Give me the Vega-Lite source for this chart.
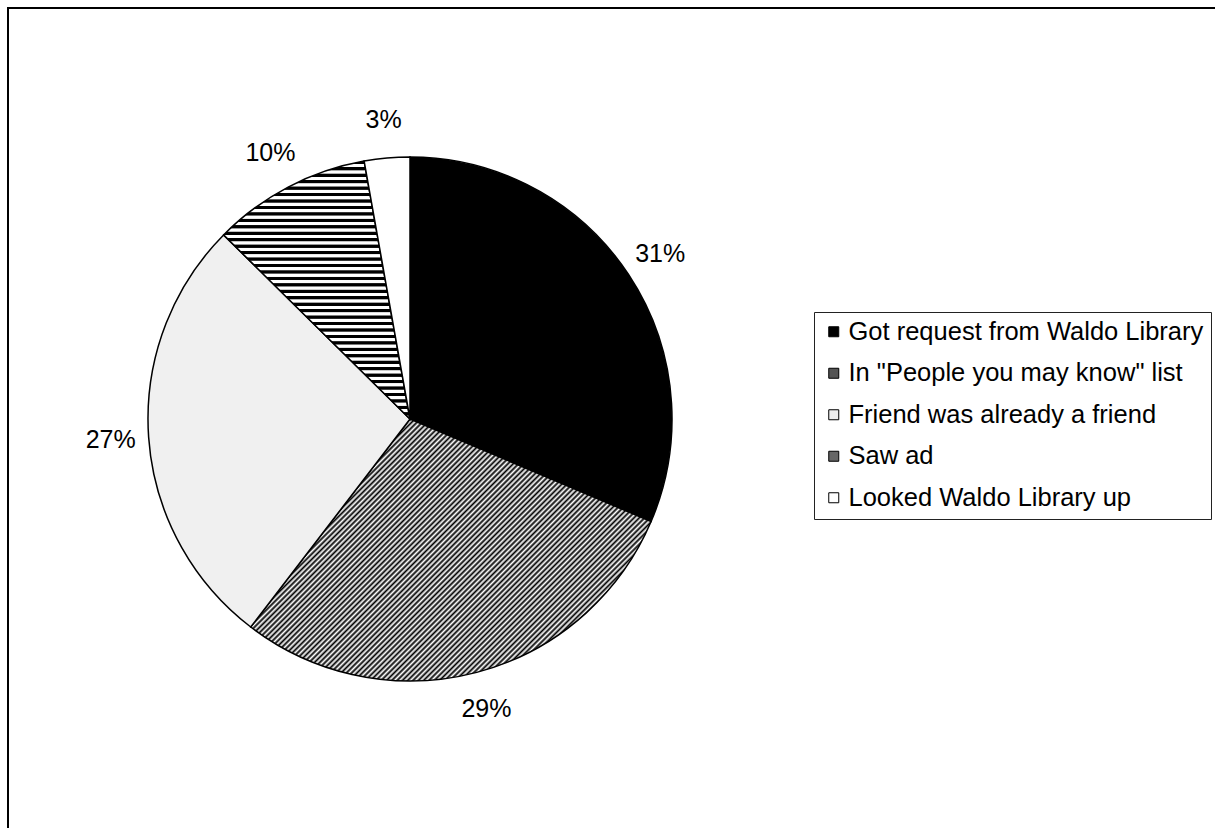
{
  "$schema": "https://vega.github.io/schema/vega-lite/v6.json",
  "padding": {"left": 6, "top": 6, "right": 0, "bottom": 0},
  "background": "white",
  "bounds": "flush",
  "spacing": 0,
  "data": {"values": [
    {"category": "Got request from Waldo Library", "share": 0.314},
    {"category": "In \"People you may know\" list", "share": 0.29},
    {"category": "Friend was already a friend", "share": 0.27},
    {"category": "Saw ad", "share": 0.098},
    {"category": "Looked Waldo Library up", "share": 0.028}
  ]},
  "resolve": {"scale": {"fill": "independent"}, "legend": {"fill": "independent"}},
  "hconcat": [
    {
      "width": 804,
      "height": 822,
      "view": {"stroke": "black", "strokeWidth": 2, "strokeCap": "square", "strokeDash": [804, 1626, 822, 1]},
      "layer": [
        {
          "mark": {"type": "arc", "radius": 262, "stroke": "black", "strokeWidth": 1.5},
          "encoding": {
            "theta": {"field": "share", "type": "quantitative", "stack": true},
            "order": {"field": "share", "type": "quantitative", "sort": "descending"},
            "detail": {"field": "category", "type": "nominal"},
            "fill": {
              "condition": [
                {"test": "datum.category === 'Got request from Waldo Library'", "value": "#000000"},
                {"test": "datum.category === 'In \"People you may know\" list'", "value": {"gradient": "linear", "x1": 0, "y1": 0, "x2": 1.158, "y2": 0.758, "stops": [
{"offset":0,"color":"#000"},{"offset":0.004,"color":"#fff"},{"offset":0.008,"color":"#000"},{"offset":0.012,"color":"#fff"},{"offset":0.016,"color":"#000"},{"offset":0.02,"color":"#fff"},{"offset":0.024,"color":"#000"},{"offset":0.028,"color":"#fff"},{"offset":0.032,"color":"#000"},{"offset":0.036,"color":"#fff"},
{"offset":0.04,"color":"#000"},{"offset":0.044,"color":"#fff"},{"offset":0.048,"color":"#000"},{"offset":0.052,"color":"#fff"},{"offset":0.056,"color":"#000"},{"offset":0.06,"color":"#fff"},{"offset":0.064,"color":"#000"},{"offset":0.068,"color":"#fff"},{"offset":0.072,"color":"#000"},{"offset":0.076,"color":"#fff"},
{"offset":0.08,"color":"#000"},{"offset":0.084,"color":"#fff"},{"offset":0.088,"color":"#000"},{"offset":0.092,"color":"#fff"},{"offset":0.096,"color":"#000"},{"offset":0.1,"color":"#fff"},{"offset":0.104,"color":"#000"},{"offset":0.108,"color":"#fff"},{"offset":0.112,"color":"#000"},{"offset":0.116,"color":"#fff"},
{"offset":0.12,"color":"#000"},{"offset":0.124,"color":"#fff"},{"offset":0.128,"color":"#000"},{"offset":0.132,"color":"#fff"},{"offset":0.136,"color":"#000"},{"offset":0.14,"color":"#fff"},{"offset":0.144,"color":"#000"},{"offset":0.148,"color":"#fff"},{"offset":0.152,"color":"#000"},{"offset":0.156,"color":"#fff"},
{"offset":0.16,"color":"#000"},{"offset":0.164,"color":"#fff"},{"offset":0.168,"color":"#000"},{"offset":0.172,"color":"#fff"},{"offset":0.176,"color":"#000"},{"offset":0.18,"color":"#fff"},{"offset":0.184,"color":"#000"},{"offset":0.188,"color":"#fff"},{"offset":0.192,"color":"#000"},{"offset":0.196,"color":"#fff"},
{"offset":0.2,"color":"#000"},{"offset":0.204,"color":"#fff"},{"offset":0.208,"color":"#000"},{"offset":0.212,"color":"#fff"},{"offset":0.216,"color":"#000"},{"offset":0.22,"color":"#fff"},{"offset":0.224,"color":"#000"},{"offset":0.228,"color":"#fff"},{"offset":0.232,"color":"#000"},{"offset":0.236,"color":"#fff"},
{"offset":0.24,"color":"#000"},{"offset":0.244,"color":"#fff"},{"offset":0.248,"color":"#000"},{"offset":0.252,"color":"#fff"},{"offset":0.256,"color":"#000"},{"offset":0.26,"color":"#fff"},{"offset":0.264,"color":"#000"},{"offset":0.268,"color":"#fff"},{"offset":0.272,"color":"#000"},{"offset":0.276,"color":"#fff"},
{"offset":0.28,"color":"#000"},{"offset":0.284,"color":"#fff"},{"offset":0.288,"color":"#000"},{"offset":0.292,"color":"#fff"},{"offset":0.296,"color":"#000"},{"offset":0.3,"color":"#fff"},{"offset":0.304,"color":"#000"},{"offset":0.308,"color":"#fff"},{"offset":0.312,"color":"#000"},{"offset":0.316,"color":"#fff"},
{"offset":0.32,"color":"#000"},{"offset":0.324,"color":"#fff"},{"offset":0.328,"color":"#000"},{"offset":0.332,"color":"#fff"},{"offset":0.336,"color":"#000"},{"offset":0.34,"color":"#fff"},{"offset":0.344,"color":"#000"},{"offset":0.348,"color":"#fff"},{"offset":0.352,"color":"#000"},{"offset":0.356,"color":"#fff"},
{"offset":0.36,"color":"#000"},{"offset":0.364,"color":"#fff"},{"offset":0.368,"color":"#000"},{"offset":0.372,"color":"#fff"},{"offset":0.376,"color":"#000"},{"offset":0.38,"color":"#fff"},{"offset":0.384,"color":"#000"},{"offset":0.388,"color":"#fff"},{"offset":0.392,"color":"#000"},{"offset":0.396,"color":"#fff"},
{"offset":0.4,"color":"#000"},{"offset":0.404,"color":"#fff"},{"offset":0.408,"color":"#000"},{"offset":0.412,"color":"#fff"},{"offset":0.416,"color":"#000"},{"offset":0.42,"color":"#fff"},{"offset":0.424,"color":"#000"},{"offset":0.428,"color":"#fff"},{"offset":0.432,"color":"#000"},{"offset":0.436,"color":"#fff"},
{"offset":0.44,"color":"#000"},{"offset":0.444,"color":"#fff"},{"offset":0.448,"color":"#000"},{"offset":0.452,"color":"#fff"},{"offset":0.456,"color":"#000"},{"offset":0.46,"color":"#fff"},{"offset":0.464,"color":"#000"},{"offset":0.468,"color":"#fff"},{"offset":0.472,"color":"#000"},{"offset":0.476,"color":"#fff"},
{"offset":0.48,"color":"#000"},{"offset":0.484,"color":"#fff"},{"offset":0.488,"color":"#000"},{"offset":0.492,"color":"#fff"},{"offset":0.496,"color":"#000"},{"offset":0.5,"color":"#fff"},{"offset":0.504,"color":"#000"},{"offset":0.508,"color":"#fff"},{"offset":0.512,"color":"#000"},{"offset":0.516,"color":"#fff"},
{"offset":0.52,"color":"#000"},{"offset":0.524,"color":"#fff"},{"offset":0.528,"color":"#000"},{"offset":0.532,"color":"#fff"},{"offset":0.536,"color":"#000"},{"offset":0.54,"color":"#fff"},{"offset":0.544,"color":"#000"},{"offset":0.548,"color":"#fff"},{"offset":0.552,"color":"#000"},{"offset":0.556,"color":"#fff"},
{"offset":0.56,"color":"#000"},{"offset":0.564,"color":"#fff"},{"offset":0.568,"color":"#000"},{"offset":0.572,"color":"#fff"},{"offset":0.576,"color":"#000"},{"offset":0.58,"color":"#fff"},{"offset":0.584,"color":"#000"},{"offset":0.588,"color":"#fff"},{"offset":0.592,"color":"#000"},{"offset":0.596,"color":"#fff"},
{"offset":0.6,"color":"#000"},{"offset":0.604,"color":"#fff"},{"offset":0.608,"color":"#000"},{"offset":0.612,"color":"#fff"},{"offset":0.616,"color":"#000"},{"offset":0.62,"color":"#fff"},{"offset":0.624,"color":"#000"},{"offset":0.628,"color":"#fff"},{"offset":0.632,"color":"#000"},{"offset":0.636,"color":"#fff"},
{"offset":0.64,"color":"#000"},{"offset":0.644,"color":"#fff"},{"offset":0.648,"color":"#000"},{"offset":0.652,"color":"#fff"},{"offset":0.656,"color":"#000"},{"offset":0.66,"color":"#fff"},{"offset":0.664,"color":"#000"},{"offset":0.668,"color":"#fff"},{"offset":0.672,"color":"#000"},{"offset":0.676,"color":"#fff"},
{"offset":0.68,"color":"#000"},{"offset":0.684,"color":"#fff"},{"offset":0.688,"color":"#000"},{"offset":0.692,"color":"#fff"},{"offset":0.696,"color":"#000"},{"offset":0.7,"color":"#fff"},{"offset":0.704,"color":"#000"},{"offset":0.708,"color":"#fff"},{"offset":0.712,"color":"#000"},{"offset":0.716,"color":"#fff"},
{"offset":0.72,"color":"#000"},{"offset":0.724,"color":"#fff"},{"offset":0.728,"color":"#000"},{"offset":0.732,"color":"#fff"},{"offset":0.736,"color":"#000"},{"offset":0.74,"color":"#fff"},{"offset":0.744,"color":"#000"},{"offset":0.748,"color":"#fff"},{"offset":0.752,"color":"#000"},{"offset":0.756,"color":"#fff"},
{"offset":0.76,"color":"#000"},{"offset":0.764,"color":"#fff"},{"offset":0.768,"color":"#000"},{"offset":0.772,"color":"#fff"},{"offset":0.776,"color":"#000"},{"offset":0.78,"color":"#fff"},{"offset":0.784,"color":"#000"},{"offset":0.788,"color":"#fff"},{"offset":0.792,"color":"#000"},{"offset":0.796,"color":"#fff"},
{"offset":0.8,"color":"#000"},{"offset":0.804,"color":"#fff"},{"offset":0.808,"color":"#000"},{"offset":0.812,"color":"#fff"},{"offset":0.816,"color":"#000"},{"offset":0.82,"color":"#fff"},{"offset":0.824,"color":"#000"},{"offset":0.828,"color":"#fff"},{"offset":0.832,"color":"#000"},{"offset":0.836,"color":"#fff"},
{"offset":0.84,"color":"#000"},{"offset":0.844,"color":"#fff"},{"offset":0.848,"color":"#000"},{"offset":0.852,"color":"#fff"},{"offset":0.856,"color":"#000"},{"offset":0.86,"color":"#fff"},{"offset":0.864,"color":"#000"},{"offset":0.868,"color":"#fff"},{"offset":0.872,"color":"#000"},{"offset":0.876,"color":"#fff"},
{"offset":0.88,"color":"#000"},{"offset":0.884,"color":"#fff"},{"offset":0.888,"color":"#000"},{"offset":0.892,"color":"#fff"},{"offset":0.896,"color":"#000"},{"offset":0.9,"color":"#fff"},{"offset":0.904,"color":"#000"},{"offset":0.908,"color":"#fff"},{"offset":0.912,"color":"#000"},{"offset":0.916,"color":"#fff"},
{"offset":0.92,"color":"#000"},{"offset":0.924,"color":"#fff"},{"offset":0.928,"color":"#000"},{"offset":0.932,"color":"#fff"},{"offset":0.936,"color":"#000"},{"offset":0.94,"color":"#fff"},{"offset":0.944,"color":"#000"},{"offset":0.948,"color":"#fff"},{"offset":0.952,"color":"#000"},{"offset":0.956,"color":"#fff"},
{"offset":0.96,"color":"#000"},{"offset":0.964,"color":"#fff"},{"offset":0.968,"color":"#000"},{"offset":0.972,"color":"#fff"},{"offset":0.976,"color":"#000"},{"offset":0.98,"color":"#fff"},{"offset":0.984,"color":"#000"},{"offset":0.988,"color":"#fff"},{"offset":0.992,"color":"#000"},{"offset":0.996,"color":"#fff"},
{"offset":1,"color":"#000"}
                ]}},
                {"test": "datum.category === 'Friend was already a friend'", "value": "#f0f0f0"},
                {"test": "datum.category === 'Saw ad'", "value": {"gradient": "linear", "x1": 0, "y1": 0, "x2": 0, "y2": 1, "stops": [
{"offset":0,"color":"#000"},{"offset":0.01,"color":"#000"},{"offset":0.0125,"color":"#fff"},{"offset":0.0225,"color":"#fff"},
{"offset":0.025,"color":"#000"},{"offset":0.035,"color":"#000"},{"offset":0.0375,"color":"#fff"},{"offset":0.0475,"color":"#fff"},
{"offset":0.05,"color":"#000"},{"offset":0.06,"color":"#000"},{"offset":0.0625,"color":"#fff"},{"offset":0.0725,"color":"#fff"},
{"offset":0.075,"color":"#000"},{"offset":0.085,"color":"#000"},{"offset":0.0875,"color":"#fff"},{"offset":0.0975,"color":"#fff"},
{"offset":0.1,"color":"#000"},{"offset":0.11,"color":"#000"},{"offset":0.1125,"color":"#fff"},{"offset":0.1225,"color":"#fff"},
{"offset":0.125,"color":"#000"},{"offset":0.135,"color":"#000"},{"offset":0.1375,"color":"#fff"},{"offset":0.1475,"color":"#fff"},
{"offset":0.15,"color":"#000"},{"offset":0.16,"color":"#000"},{"offset":0.1625,"color":"#fff"},{"offset":0.1725,"color":"#fff"},
{"offset":0.175,"color":"#000"},{"offset":0.185,"color":"#000"},{"offset":0.1875,"color":"#fff"},{"offset":0.1975,"color":"#fff"},
{"offset":0.2,"color":"#000"},{"offset":0.21,"color":"#000"},{"offset":0.2125,"color":"#fff"},{"offset":0.2225,"color":"#fff"},
{"offset":0.225,"color":"#000"},{"offset":0.235,"color":"#000"},{"offset":0.2375,"color":"#fff"},{"offset":0.2475,"color":"#fff"},
{"offset":0.25,"color":"#000"},{"offset":0.26,"color":"#000"},{"offset":0.2625,"color":"#fff"},{"offset":0.2725,"color":"#fff"},
{"offset":0.275,"color":"#000"},{"offset":0.285,"color":"#000"},{"offset":0.2875,"color":"#fff"},{"offset":0.2975,"color":"#fff"},
{"offset":0.3,"color":"#000"},{"offset":0.31,"color":"#000"},{"offset":0.3125,"color":"#fff"},{"offset":0.3225,"color":"#fff"},
{"offset":0.325,"color":"#000"},{"offset":0.335,"color":"#000"},{"offset":0.3375,"color":"#fff"},{"offset":0.3475,"color":"#fff"},
{"offset":0.35,"color":"#000"},{"offset":0.36,"color":"#000"},{"offset":0.3625,"color":"#fff"},{"offset":0.3725,"color":"#fff"},
{"offset":0.375,"color":"#000"},{"offset":0.385,"color":"#000"},{"offset":0.3875,"color":"#fff"},{"offset":0.3975,"color":"#fff"},
{"offset":0.4,"color":"#000"},{"offset":0.41,"color":"#000"},{"offset":0.4125,"color":"#fff"},{"offset":0.4225,"color":"#fff"},
{"offset":0.425,"color":"#000"},{"offset":0.435,"color":"#000"},{"offset":0.4375,"color":"#fff"},{"offset":0.4475,"color":"#fff"},
{"offset":0.45,"color":"#000"},{"offset":0.46,"color":"#000"},{"offset":0.4625,"color":"#fff"},{"offset":0.4725,"color":"#fff"},
{"offset":0.475,"color":"#000"},{"offset":0.485,"color":"#000"},{"offset":0.4875,"color":"#fff"},{"offset":0.4975,"color":"#fff"},
{"offset":0.5,"color":"#000"},{"offset":0.51,"color":"#000"},{"offset":0.5125,"color":"#fff"},{"offset":0.5225,"color":"#fff"},
{"offset":0.525,"color":"#000"},{"offset":0.535,"color":"#000"},{"offset":0.5375,"color":"#fff"},{"offset":0.5475,"color":"#fff"},
{"offset":0.55,"color":"#000"},{"offset":0.56,"color":"#000"},{"offset":0.5625,"color":"#fff"},{"offset":0.5725,"color":"#fff"},
{"offset":0.575,"color":"#000"},{"offset":0.585,"color":"#000"},{"offset":0.5875,"color":"#fff"},{"offset":0.5975,"color":"#fff"},
{"offset":0.6,"color":"#000"},{"offset":0.61,"color":"#000"},{"offset":0.6125,"color":"#fff"},{"offset":0.6225,"color":"#fff"},
{"offset":0.625,"color":"#000"},{"offset":0.635,"color":"#000"},{"offset":0.6375,"color":"#fff"},{"offset":0.6475,"color":"#fff"},
{"offset":0.65,"color":"#000"},{"offset":0.66,"color":"#000"},{"offset":0.6625,"color":"#fff"},{"offset":0.6725,"color":"#fff"},
{"offset":0.675,"color":"#000"},{"offset":0.685,"color":"#000"},{"offset":0.6875,"color":"#fff"},{"offset":0.6975,"color":"#fff"},
{"offset":0.7,"color":"#000"},{"offset":0.71,"color":"#000"},{"offset":0.7125,"color":"#fff"},{"offset":0.7225,"color":"#fff"},
{"offset":0.725,"color":"#000"},{"offset":0.735,"color":"#000"},{"offset":0.7375,"color":"#fff"},{"offset":0.7475,"color":"#fff"},
{"offset":0.75,"color":"#000"},{"offset":0.76,"color":"#000"},{"offset":0.7625,"color":"#fff"},{"offset":0.7725,"color":"#fff"},
{"offset":0.775,"color":"#000"},{"offset":0.785,"color":"#000"},{"offset":0.7875,"color":"#fff"},{"offset":0.7975,"color":"#fff"},
{"offset":0.8,"color":"#000"},{"offset":0.81,"color":"#000"},{"offset":0.8125,"color":"#fff"},{"offset":0.8225,"color":"#fff"},
{"offset":0.825,"color":"#000"},{"offset":0.835,"color":"#000"},{"offset":0.8375,"color":"#fff"},{"offset":0.8475,"color":"#fff"},
{"offset":0.85,"color":"#000"},{"offset":0.86,"color":"#000"},{"offset":0.8625,"color":"#fff"},{"offset":0.8725,"color":"#fff"},
{"offset":0.875,"color":"#000"},{"offset":0.885,"color":"#000"},{"offset":0.8875,"color":"#fff"},{"offset":0.8975,"color":"#fff"},
{"offset":0.9,"color":"#000"},{"offset":0.91,"color":"#000"},{"offset":0.9125,"color":"#fff"},{"offset":0.9225,"color":"#fff"},
{"offset":0.925,"color":"#000"},{"offset":0.935,"color":"#000"},{"offset":0.9375,"color":"#fff"},{"offset":0.9475,"color":"#fff"},
{"offset":0.95,"color":"#000"},{"offset":0.96,"color":"#000"},{"offset":0.9625,"color":"#fff"},{"offset":0.9725,"color":"#fff"},
{"offset":0.975,"color":"#000"},{"offset":0.985,"color":"#000"},{"offset":0.9875,"color":"#fff"},{"offset":0.9975,"color":"#fff"},
{"offset":1,"color":"#000"}
                ]}}
              ],
              "value": "#ffffff"
            }
          }
        },
        {
          "mark": {"type": "text", "radius": 300, "font": "Liberation Sans", "fontSize": 25, "fill": "black"},
          "encoding": {
            "theta": {"field": "share", "type": "quantitative", "stack": true},
            "order": {"field": "share", "type": "quantitative", "sort": "descending"},
            "detail": {"field": "category", "type": "nominal"},
            "text": {"field": "share", "type": "quantitative", "format": ".0%"}
          }
        }
      ]
    },
    {
      "width": 411,
      "height": 822,
      "view": {"stroke": "black", "strokeWidth": 2, "strokeCap": "square", "strokeDash": [411, 5000]},
      "mark": {"type": "text"},
      "encoding": {
        "text": {"value": ""},
        "fill": {
          "field": "category", "type": "nominal",
          "scale": {
            "domain": ["Got request from Waldo Library", "In \"People you may know\" list", "Friend was already a friend", "Saw ad", "Looked Waldo Library up"],
            "range": ["#000000", "#555555", "#eeeeee", "#666666", "#ffffff"]
          },
          "legend": {
            "title": null,
            "orient": "none",
            "legendX": 2,
            "legendY": 304,
            "symbolType": "square",
            "symbolSize": 100,
            "symbolStrokeColor": "black",
            "symbolStrokeWidth": 1,
            "labelFont": "Liberation Sans",
            "labelFontSize": 25.5,
            "labelColor": "black",
            "labelOffset": 2,
            "labelLimit": 600,
            "rowPadding": 14.5,
            "padding": 7,
            "strokeColor": "#222",
            "fillColor": "white"
          }
        }
      }
    }
  ]
}
